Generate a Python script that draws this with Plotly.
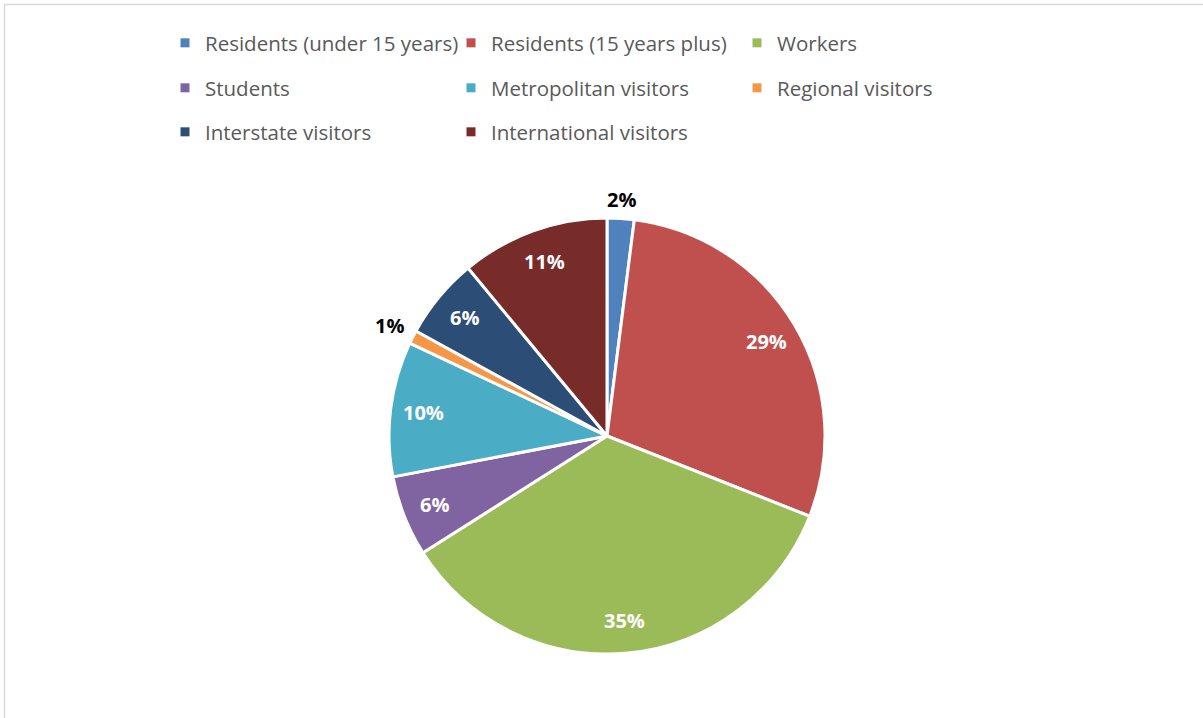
import math
import plotly.graph_objects as go

# visitor segments, clockwise from 12 o'clock
labels = [
    "Residents (under 15 years)", "Residents (15 years plus)", "Workers",
    "Students", "Metropolitan visitors", "Regional visitors",
    "Interstate visitors", "International visitors",
]
shares = [2, 29, 35, 6, 10, 1, 6, 11]
colors = ["#4F81BD", "#C0504D", "#9BBB59", "#8064A2",
          "#4BACC6", "#F79646", "#2C4D75", "#772C2A"]
# legend is laid out three entries per row
legend_rows = ["legend", "legend", "legend", "legend2", "legend2", "legend2", "legend3", "legend3"]

W, H = 1203, 718
cx, cy, r = 607, 436, 218

fig = go.Figure()

fig.add_trace(go.Pie(
    labels=labels,
    values=shares,
    sort=False,
    direction="clockwise",
    rotation=0,
    marker=dict(colors=colors, line=dict(color="white", width=3)),
    textinfo="none",
    showlegend=False,
    domain=dict(x=[(cx - r) / W, (cx + r) / W], y=[(H - cy - r) / H, (H - cy + r) / H]),
    hoverinfo="label+percent",
))

# data labels placed like Excel's best fit: inside near the rim, tiny slices outside
total = sum(shares)
annotations = []
cum = 0
for v in shares:
    pct = v / total
    ang = 2 * math.pi * (cum + pct / 2)
    cum += pct
    dx, dy = math.sin(ang), -math.cos(ang)
    inside = pct >= 0.05
    if inside:
        dist = 0.85 * r
    else:
        dist = r + 10 + abs(dx) * 14 + abs(dy) * 8
    annotations.append(dict(
        x=(cx + dx * dist) / W, y=1 - (cy + dy * dist) / H,
        xref="paper", yref="paper", xanchor="center", yanchor="middle",
        text=f"{round(pct * 100)}%", showarrow=False,
        font=dict(family="Open Sans", size=20, weight="bold",
                  color="white" if inside else "black"),
    ))

# legend-only entries so the rows can be spaced like the original
for name, col, lg in zip(labels, colors, legend_rows):
    fig.add_trace(go.Scatter(
        x=[None], y=[None], mode="markers", name=name, legend=lg,
        marker=dict(symbol="square", size=9, color=col),
    ))

leg_common = dict(
    orientation="h", xanchor="left", yanchor="middle", x=165 / W,
    entrywidth=241, entrywidthmode="pixels",
    font=dict(family="Open Sans", size=20.5, color="#595959"),
    bgcolor="rgba(0,0,0,0)", itemclick=False, itemdoubleclick=False,
)

fig.update_layout(
    width=W, height=H,
    margin=dict(l=0, r=0, t=0, b=0),
    paper_bgcolor="white", plot_bgcolor="white",
    xaxis=dict(visible=False), yaxis=dict(visible=False),
    legend=dict(y=1 - 43 / H, **leg_common),
    legend2=dict(y=1 - 88 / H, **leg_common),
    legend3=dict(y=1 - 132 / H, **leg_common),
    annotations=annotations,
    shapes=[dict(type="rect", xref="paper", yref="paper",
                 x0=4.5 / W, x1=1 + 10 / W, y0=-10 / H, y1=1 - 4.5 / H,
                 line=dict(color="#D9D9D9", width=1.5), fillcolor="rgba(0,0,0,0)")],
)

fig.write_html("out.html", config={"displayModeBar": False},
               post_script="document.body.style.margin='0px';")
